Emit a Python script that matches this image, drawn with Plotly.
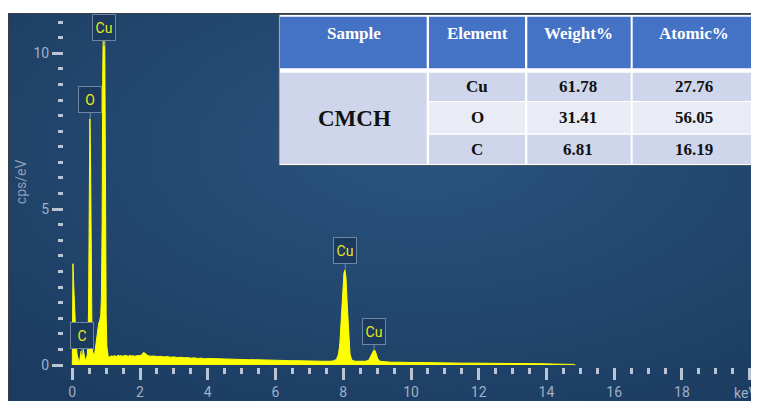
import base64
import plotly.graph_objects as go

# ---------------- data ----------------
energy_keV = [0.00, 0.01, 0.02, 0.04, 0.06, 0.08, 0.10, 0.12, 0.14, 0.16, 0.18, 0.20,
              0.22, 0.24, 0.26, 0.28, 0.30, 0.32, 0.34, 0.36, 0.38, 0.40, 0.42, 0.44,
              0.46, 0.48, 0.50, 0.52, 0.54, 0.56, 0.58, 0.60, 0.62, 0.64, 0.66, 0.68,
              0.70, 0.72, 0.74, 0.76, 0.78, 0.80, 0.82, 0.84, 0.86, 0.88, 0.90, 0.92,
              0.94, 0.96, 0.98, 1.00, 1.02, 1.04, 1.06, 1.10, 1.15, 1.20, 1.25, 1.30,
              1.35, 1.40, 1.45, 1.50, 1.55, 1.60, 1.65, 1.70, 1.75, 1.80, 1.85, 1.90,
              1.95, 2.00, 2.05, 2.10, 2.15, 2.20, 2.25, 2.30, 2.40, 2.50, 2.60, 2.70,
              2.80, 2.90, 3.00, 3.10, 3.20, 3.30, 3.40, 3.50, 3.60, 3.70, 3.80, 3.90,
              4.00, 4.20, 4.40, 4.60, 4.80, 5.00, 5.20, 5.40, 5.60, 5.80, 6.00, 6.20,
              6.40, 6.60, 6.80, 7.00, 7.20, 7.40, 7.60, 7.70, 7.80, 7.86, 7.90, 7.94,
              7.98, 8.02, 8.05, 8.08, 8.12, 8.16, 8.20, 8.25, 8.35, 8.50, 8.65, 8.75,
              8.80, 8.85, 8.90, 8.94, 8.98, 9.02, 9.08, 9.20, 9.40, 9.60, 9.80, 10.0,
              10.3, 10.6, 10.9, 11.2, 11.5, 11.8, 12.1, 12.4, 12.7, 13.0, 13.3, 13.6,
              13.9, 14.2, 14.5, 14.8, 14.85]
counts_cps_eV = [0.00, 2.00, 3.25, 2.60, 1.90, 1.30, 0.85, 0.55, 0.35, 0.22, 0.12, 0.08,
                 0.15, 0.35, 0.45, 0.30, 0.22, 0.50, 0.40, 0.20, 0.15, 0.18, 0.22, 0.30,
                 0.60, 1.80, 5.00, 7.90, 6.50, 3.00, 1.00, 0.45, 0.30, 0.27, 0.35, 0.55,
                 0.75, 0.95, 1.10, 1.25, 1.35, 1.38, 1.45, 1.60, 2.20, 4.50, 9.50, 12.5,
                 13.0, 10.0, 5.00, 1.60, 0.60, 0.35, 0.27, 0.26, 0.29, 0.28, 0.30, 0.27,
                 0.31, 0.29, 0.30, 0.28, 0.31, 0.30, 0.28, 0.31, 0.29, 0.30, 0.28, 0.30,
                 0.29, 0.30, 0.33, 0.40, 0.38, 0.32, 0.30, 0.28, 0.29, 0.27, 0.28, 0.26,
                 0.27, 0.25, 0.26, 0.24, 0.25, 0.23, 0.24, 0.22, 0.23, 0.21, 0.22, 0.20,
                 0.21, 0.20, 0.19, 0.19, 0.18, 0.18, 0.17, 0.17, 0.16, 0.16, 0.15, 0.15,
                 0.14, 0.14, 0.13, 0.13, 0.12, 0.12, 0.12, 0.13, 0.18, 0.35, 0.70, 1.40,
                 2.30, 2.95, 3.05, 2.80, 1.90, 0.90, 0.35, 0.16, 0.12, 0.12, 0.12, 0.15,
                 0.25, 0.38, 0.47, 0.46, 0.34, 0.20, 0.12, 0.10, 0.09, 0.09, 0.08, 0.08,
                 0.08, 0.07, 0.07, 0.07, 0.06, 0.06, 0.06, 0.05, 0.05, 0.05, 0.04, 0.04,
                 0.04, 0.03, 0.03, 0.02, 0.00]

peak_labels = ["C", "O", "Cu", "Cu", "Cu"]
peak_energy = [0.28, 0.53, 0.94, 8.06, 8.91]
peak_height = [0.35, 7.92, 10.23, 3.05, 0.48]

x_tick_vals = [0, 2, 4, 6, 8, 10, 12, 14, 16, 18, 20]
x_tick_text = ["0", "2", "4", "6", "8", "10", "12", "14", "16", "18", ""]
x_unit = "keV"
y_tick_vals = [0, 5, 10]
y_tick_text = ["0", "5", "10"]
y_title = "cps/eV"

table_header = ["Sample", "Element", "Weight%", "Atomic%"]
table_sample = "CMCH"
table_elements = ["Cu", "O", "C"]
table_weight = ["61.78", "31.41", "6.81"]
table_atomic = ["27.76", "56.05", "16.19"]

# ---------------- geometry (window pixels; page body has an 8px margin) ----------------
OFF = 8
W, H = 759 - OFF, 401 - OFF
PL, PR, PT, PB = 64, 759, 13, 367          # plot area edges in window pixels
ML, MR, MT, MB = PL - OFF, 759 - PR, PT - OFF, 401 - PB
PW, PH = PR - PL, PB - PT


def px(xp):
    return (xp - PL) / PW


def py(yp):
    return (PB - yp) / PH


fig = go.Figure()
fig.add_trace(go.Scatter(
    x=energy_keV, y=counts_cps_eV, mode="lines",
    line=dict(color="#ffff00", width=1),
    fill="tozeroy", fillcolor="#ffff00",
    hoverinfo="skip", showlegend=False))

# background gradient panel
svg = ("<svg xmlns='http://www.w3.org/2000/svg' width='751' height='388' "
       "viewBox='0 0 751 388' preserveAspectRatio='none'><defs>"
       "<radialGradient id='g' cx='0.55' cy='0.35' r='0.8'>"
       "<stop offset='0' stop-color='#29547f'/>"
       "<stop offset='1' stop-color='#1c3b60'/></radialGradient></defs>"
       "<rect width='751' height='388' fill='url(#g)'/></svg>")
src = "data:image/svg+xml;base64," + base64.b64encode(svg.encode()).decode()
fig.add_layout_image(dict(source=src, xref="paper", yref="paper",
                          x=px(8), y=py(13), sizex=px(759) - px(8),
                          sizey=py(13) - py(401), sizing="stretch",
                          xanchor="left", yanchor="top", layer="below"))

shapes = []
# panel border
shapes.append(dict(type="rect", xref="paper", yref="paper",
                   x0=px(8.5), x1=px(760), y0=py(402), y1=py(13.5),
                   line=dict(color="#3a3f46", width=1), fillcolor="rgba(0,0,0,0)"))

# table
col_x = [(280, 426.7), (429, 525), (527.3, 630.7), (632.7, 757.3)]
hdr_y = (16.7, 68.3)
row_y = [(72.7, 101), (102.3, 133.3), (134.7, 164)]
row_fill = ["#cfd5ea", "#e9ebf5", "#cfd5ea"]


def rect(x0, x1, y0, y1, fill, line=None):
    return dict(type="rect", xref="paper", yref="paper", layer="above",
                x0=px(x0), x1=px(x1), y0=py(y1), y1=py(y0),
                fillcolor=fill,
                line=dict(width=1 if line else 0, color=line or fill))


shapes.append(rect(279, 758.5, 14.5, 165.5, "#ffffff", "#4a5360"))
for (x0, x1) in col_x:
    shapes.append(rect(x0, x1, hdr_y[0], hdr_y[1], "#4472c4"))
shapes.append(rect(col_x[0][0], col_x[0][1], row_y[0][0], row_y[2][1], "#cfd5ea"))
for (y0, y1), f in zip(row_y, row_fill):
    for (x0, x1) in col_x[1:]:
        shapes.append(rect(x0, x1, y0, y1, f))

annotations = []
serif = "Liberation Serif, Times New Roman, serif"
hdr_cx = [354, 477, 578.3, 694.3]
for t, cx in zip(table_header, hdr_cx):
    annotations.append(dict(text="<b>%s</b>" % t, x=px(cx), y=py(34), xref="paper", yref="paper",
                            showarrow=False, xanchor="center", yanchor="middle",
                            font=dict(family=serif, size=17, color="#ffffff")))
annotations.append(dict(text="<b>%s</b>" % table_sample, x=px(354), y=py(118), xref="paper",
                        yref="paper", showarrow=False, xanchor="center", yanchor="middle",
                        font=dict(family=serif, size=23, color="#111111")))
for i, (y0, y1) in enumerate(row_y):
    cy = (y0 + y1) / 2
    for txt, cx in zip([table_elements[i], table_weight[i], table_atomic[i]], hdr_cx[1:]):
        annotations.append(dict(text="<b>%s</b>" % txt, x=px(cx), y=py(cy), xref="paper",
                                yref="paper", showarrow=False, xanchor="center",
                                yanchor="middle",
                                font=dict(family=serif, size=17, color="#111111")))

# peak labels
for lab, e, h in zip(peak_labels, peak_energy, peak_height):
    annotations.append(dict(text=lab, x=e, y=h, xref="x", yref="y",
                            showarrow=True, arrowhead=0, arrowwidth=1,
                            arrowcolor="#7489a5", ax=0, ay=-19, standoff=0,
                            bgcolor="#1b3a5e", bordercolor="#6f86a3", borderwidth=1,
                            borderpad=3, width=16, height=19,
                            font=dict(family="Roboto, sans-serif", size=14, color="#e8e81a")))

tick_font = dict(family="Roboto, sans-serif", size=14, color="#9fb0c6")

# y-axis title and x unit label
annotations.append(dict(text=y_title, x=px(20.5), y=py(181.7), xref="paper", yref="paper",
                        showarrow=False, textangle=-90, xanchor="center", yanchor="middle",
                        font=dict(family="Roboto, sans-serif", size=14, color="#8a9db6")))
annotations.append(dict(text=x_unit, x=px(745), y=py(392.5), xref="paper", yref="paper",
                        showarrow=False, xanchor="center", yanchor="middle",
                        font=tick_font))

x0_keV = (PL - 72.3) / 33.87
x1_keV = (PR - 72.3) / 33.87
y0_v = (365 - PB) / 31.17
y1_v = (365 - PT) / 31.17

fig.update_layout(
    width=W, height=H,
    margin=dict(l=ML, r=MR, t=MT, b=MB, pad=0),
    paper_bgcolor="#ffffff", plot_bgcolor="rgba(0,0,0,0)",
    shapes=shapes, annotations=annotations, showlegend=False,
    xaxis=dict(range=[x0_keV, x1_keV], showgrid=False, zeroline=False, showline=False,
               tickmode="array", tickvals=x_tick_vals, ticktext=x_tick_text,
               ticks="outside", ticklen=12, tickwidth=2.5, tickcolor="#b9c5d3",
               minor=dict(dtick=0.5, tick0=0, ticks="outside", ticklen=6, tickwidth=2.5,
                          tickcolor="#b9c5d3", showgrid=False),
               tickfont=tick_font, ticklabeloverflow="allow", automargin=False,
               fixedrange=True),
    yaxis=dict(range=[y0_v, y1_v], showgrid=False, zeroline=False, showline=False,
               tickmode="array", tickvals=y_tick_vals, ticktext=y_tick_text,
               ticks="outside", ticklen=11, tickwidth=3, tickcolor="#b9c5d3",
               minor=dict(dtick=0.5, tick0=0, ticks="outside", ticklen=5, tickwidth=3,
                          tickcolor="#b9c5d3", showgrid=False),
               tickfont=tick_font, automargin=False, fixedrange=True),
)

fig.write_html("out.html")
